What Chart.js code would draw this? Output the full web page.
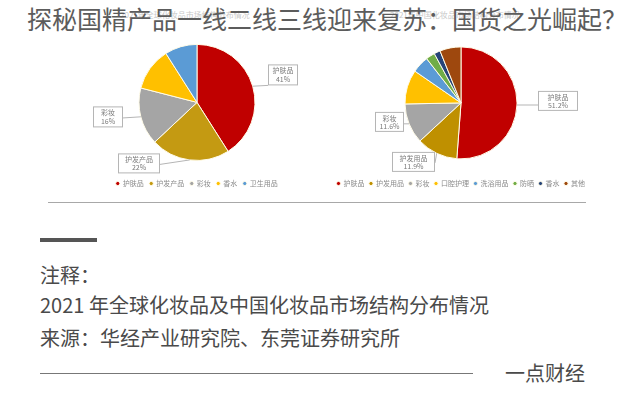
<!DOCTYPE html>
<html><head><meta charset="utf-8">
<script src="https://cdn.jsdelivr.net/npm/chart.js@4"></script>
<style>
html,body{margin:0;padding:0;background:#fff;width:636px;height:400px;overflow:hidden;font-family:"Noto Sans CJK SC",sans-serif;}
.abs{position:absolute;white-space:nowrap;}
#title{left:27px;top:3px;font-size:25px;color:#5c5c5c;line-height:30px;z-index:3;}
.ghost{font-size:8px;color:#c8c8c8;top:9px;z-index:1;}
.note{left:40px;font-size:20px;color:#4a4a4a;line-height:24px;}
canvas{position:absolute;}
</style></head><body>
<div class="abs ghost" style="left:120px;">2021年全球化妆品市场结构分布情况</div>
<div class="abs ghost" style="left:390px;">2021年中国化妆品市场结构分布情况</div>
<div id="title" class="abs">探秘国精产品一线二线三线迎来复苏：国货之光崛起？</div>
<canvas id="c1" width="230" height="156" style="left:82px;top:41px;"></canvas>
<canvas id="c2" width="260" height="156" style="left:331px;top:41px;"></canvas>
<div class="abs" style="left:48px;top:202px;width:538px;height:1px;background:#a8a8a8;"></div>
<div class="abs" style="left:40px;top:238px;width:57px;height:4px;background:#555;"></div>
<div class="abs note" style="top:263px;">注释：</div>
<div class="abs note" style="top:293px;">2021 年全球化妆品及中国化妆品市场结构分布情况</div>
<div class="abs note" style="top:326px;">来源：华经产业研究院、东莞证券研究所</div>
<div class="abs" style="left:40px;top:373px;width:433px;height:1px;background:#777;"></div>
<div class="abs note" style="left:505px;top:361px;">一点财经</div>
<script>
// Global market
const globalLabels = ['护肤品','护发产品','彩妆','香水','卫生用品'];
const globalValues = [41, 22, 16, 12, 9];
const globalColors = ['#C00000','#C49A12','#A5A5A5','#FFC000','#5B9BD5'];
// China market
const chinaLabels = ['护肤品','护发用品','彩妆','口腔护理','洗浴用品','防晒','香水','其他'];
const chinaValues = [51.2, 11.9, 11.6, 9.9, 4.9, 2.6, 1.8, 6.1];
const chinaColors = ['#C00000','#BF9000','#A5A5A5','#FFC000','#5B9BD5','#70AD47','#264478','#9E480E'];

const calloutPlugin = {
  id: 'callouts',
  afterDatasetsDraw(chart, args, opts) {
    const ctx = chart.ctx;
    const meta = chart.getDatasetMeta(0);
    const vals = chart.data.datasets[0].data;
    ctx.save();
    (opts.items || []).forEach(it => {
      const arc = meta.data[it.index];
      const p = arc.getProps(['x','y','startAngle','endAngle','outerRadius'], true);
      const mid = (p.startAngle + p.endAngle) / 2;
      const ax = p.x + Math.cos(mid) * p.outerRadius;
      const ay = p.y + Math.sin(mid) * p.outerRadius;
      const bx = p.x + it.dx, by = p.y + it.dy, bw = it.w, bh = it.h;
      const lx = Math.min(Math.max(ax, bx), bx + bw);
      const ly = Math.min(Math.max(ay, by + bh * 0.55), by + bh);
      ctx.strokeStyle = '#b5b5b5';
      ctx.lineWidth = 1;
      ctx.beginPath(); ctx.moveTo(ax, ay); ctx.lineTo(lx, ly); ctx.stroke();
      ctx.fillStyle = '#fff';
      ctx.fillRect(bx, by, bw, bh);
      ctx.strokeRect(bx + 0.5, by + 0.5, bw - 1, bh - 1);
      ctx.fillStyle = '#7a7a7a';
      ctx.font = '7px "Noto Sans CJK SC"';
      ctx.textAlign = 'center';
      ctx.textBaseline = 'middle';
      ctx.fillText(chart.data.labels[it.index], bx + bw / 2, by + bh * 0.3);
      ctx.fillText(vals[it.index] + '%', bx + bw / 2, by + bh * 0.72);
    });
    ctx.restore();
  }
};

function makePie(id, labels, values, colors, radius, items, gap) {
  return new Chart(document.getElementById(id), {
    type: 'pie',
    data: { labels, datasets: [{ data: values, backgroundColor: colors, borderColor: '#fffbe8', borderWidth: 1, radius }] },
    options: {
      responsive: false, animation: false,
      layout: { padding: 0 },
      plugins: {
        tooltip: { enabled: false },
        legend: {
          position: 'bottom',
          title: { display: true, text: '', font: { size: 1 }, padding: { top: 9, bottom: 0 } },
          labels: { font: { size: 7, family: '"Noto Sans CJK SC"' }, color: '#8a8a8a', usePointStyle: true, pointStyle: 'circle', boxWidth: 3, boxHeight: 3, padding: gap }
        },
        callouts: { items }
      }
    },
    plugins: [calloutPlugin]
  });
}

makePie('c1', globalLabels, globalValues, globalColors, 58, [
  { index: 0, dx: 71, dy: -38, w: 30, h: 21 },
  { index: 2, dx: -104, dy: 4, w: 30, h: 21 },
  { index: 1, dx: -79, dy: 51, w: 42, h: 20 }
], 6);
makePie('c2', chinaLabels, chinaValues, chinaColors, 56, [
  { index: 0, dx: 77, dy: -12, w: 40, h: 20 },
  { index: 2, dx: -86, dy: 9, w: 29, h: 20 },
  { index: 1, dx: -69, dy: 49, w: 43, h: 20 }
], 5);
</script>
</body></html>
